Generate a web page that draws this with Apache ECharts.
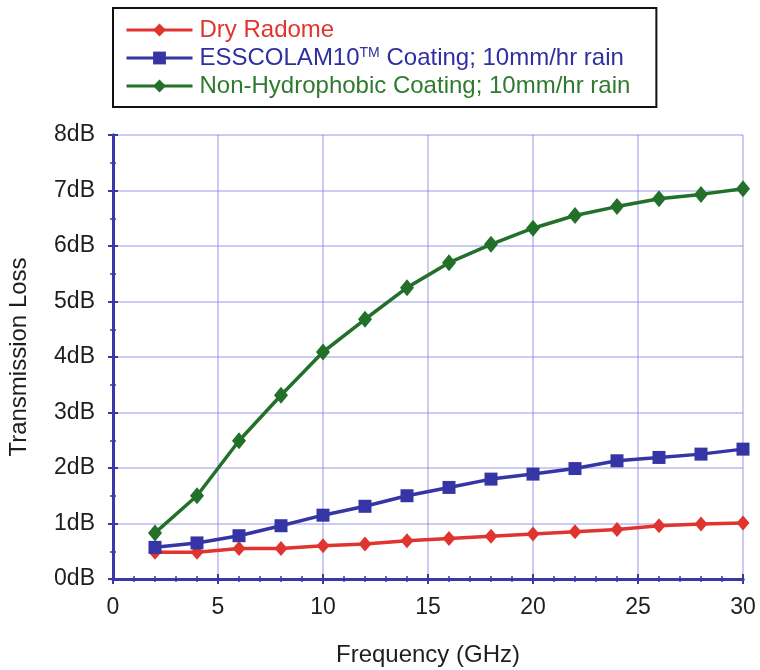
<!DOCTYPE html>
<html>
<head>
<meta charset="utf-8">
<script src="https://cdn.jsdelivr.net/npm/echarts@6/dist/echarts.min.js"></script>
<style>
  html, body { margin: 0; padding: 0; background: #fff; }
  #chart { width: 760px; height: 670px; }
</style>
</head>
<body>
<div id="chart"></div>
<script>
// Frequency sample points (GHz)
const frequencies = [2, 4, 6, 8, 10, 12, 14, 16, 18, 20, 22, 24, 26, 28, 30];

// Transmission loss (dB) for each configuration
const dryRadome = [0.48, 0.48, 0.55, 0.55, 0.60, 0.63, 0.69, 0.73, 0.77, 0.81, 0.85, 0.89, 0.96, 0.99, 1.01];
const esscolamRain = [0.57, 0.65, 0.78, 0.96, 1.15, 1.31, 1.50, 1.65, 1.80, 1.89, 1.99, 2.13, 2.19, 2.25, 2.34];
const nonHydrophobicRain = [0.83, 1.50, 2.49, 3.31, 4.09, 4.68, 5.25, 5.70, 6.03, 6.32, 6.55, 6.71, 6.85, 6.93, 7.03];

// Axis tick labels
const yTickLabels = ['0dB', '1dB', '2dB', '3dB', '4dB', '5dB', '6dB', '7dB', '8dB'];
const xTickLabels = ['0', '5', '10', '15', '20', '25', '30'];

const seriesNames = [
  'Dry Radome',
  'ESSCOLAM10TM Coating; 10mm/hr rain',
  'Non-Hydrophobic Coating; 10mm/hr rain'
];

const frameColor = '#3838a8';
const gridColor = 'rgba(130,130,225,0.55)';
const font = '"Liberation Sans", Arial, sans-serif';
const textColor = '#1e1e1e';

function pairs(ys) {
  return frequencies.map((x, i) => [x, ys[i]]);
}

const chart = echarts.init(document.getElementById('chart'), null, { renderer: 'canvas' });

function frameAxis(minorSplit) {
  return {
    axisLine: { show: true, lineStyle: { color: frameColor, width: 3 } },
    axisTick: { show: true, inside: false, length: 5, lineStyle: { color: frameColor, width: 2 } },
    minorTick: { show: true, splitNumber: minorSplit, length: 3, lineStyle: { color: frameColor, width: 1.5 } }
  };
}

chart.setOption({
  animation: false,
  backgroundColor: '#fff',
  grid: { left: 113, right: 17, top: 135, bottom: 91, containLabel: false, outerBoundsMode: 'none' },
  legend: {
    orient: 'vertical',
    left: 113,
    top: 8,
    padding: [10, 26, 9, 12],
    borderColor: '#111',
    borderWidth: 2,
    itemWidth: 66,
    itemHeight: 16,
    itemGap: 4,
    lineStyle: { width: 3 },
    textStyle: { fontFamily: font, fontSize: 24, lineHeight: 24, padding: [0, 0, 0, 2] },
    formatter: function (name) {
      if (name === seriesNames[1]) {
        return 'ESSCOLAM10{sup|TM} Coating; 10mm/hr rain';
      }
      return name;
    },
    data: [
      { name: seriesNames[0], textStyle: { color: '#e0342e' } },
      {
        name: seriesNames[1],
        textStyle: {
          color: '#2f2fa0',
          rich: { sup: { fontFamily: font, fontSize: 14, lineHeight: 24, color: '#2f2fa0', padding: [0, 0, 9, 0] } }
        }
      },
      { name: seriesNames[2], textStyle: { color: '#2f7a2f' } }
    ]
  },
  xAxis: [
    Object.assign({
      type: 'value', position: 'bottom', min: 0, max: 30, interval: 5,
      name: 'Frequency (GHz)', nameLocation: 'middle', nameGap: 64,
      nameTextStyle: { fontFamily: font, fontSize: 24, color: textColor },
      axisLabel: {
        margin: 17, fontFamily: font, fontSize: 23, color: textColor,
        formatter: (v) => xTickLabels[Math.round(v / 5)]
      },
      splitLine: { show: true, lineStyle: { color: gridColor, width: 1.5 } }
    }, frameAxis(5)),
    Object.assign({
      type: 'value', position: 'top', min: 0, max: 30, interval: 5,
      axisLabel: { show: false }, splitLine: { show: false }
    }, frameAxis(5))
  ],
  yAxis: [
    Object.assign({
      type: 'value', position: 'left', min: 0, max: 8, interval: 1,
      name: 'Transmission Loss', nameLocation: 'middle', nameGap: 82, nameRotate: 90,
      nameTextStyle: { fontFamily: font, fontSize: 24, color: textColor },
      axisLabel: {
        margin: 18, fontFamily: font, fontSize: 23, color: textColor,
        formatter: (v) => yTickLabels[Math.round(v)]
      },
      splitLine: { show: true, lineStyle: { color: gridColor, width: 1.5 } }
    }, frameAxis(2)),
    Object.assign({
      type: 'value', position: 'right', min: 0, max: 8, interval: 1,
      axisLabel: { show: false }, splitLine: { show: false }
    }, frameAxis(2))
  ],
  series: [
    {
      name: seriesNames[0], type: 'line', data: pairs(dryRadome),
      symbol: 'diamond', symbolSize: [13, 15],
      lineStyle: { color: '#e0342e', width: 3.5 },
      itemStyle: { color: '#e0342e' }
    },
    {
      name: seriesNames[1], type: 'line', data: pairs(esscolamRain),
      symbol: 'rect', symbolSize: 13,
      lineStyle: { color: '#3535a6', width: 3.5 },
      itemStyle: { color: '#3535a6' }
    },
    {
      name: seriesNames[2], type: 'line', data: pairs(nonHydrophobicRain),
      symbol: 'diamond', symbolSize: [14, 17],
      lineStyle: { color: '#22702a', width: 3.5 },
      itemStyle: { color: '#22702a' }
    }
  ]
});
</script>
</body>
</html>
